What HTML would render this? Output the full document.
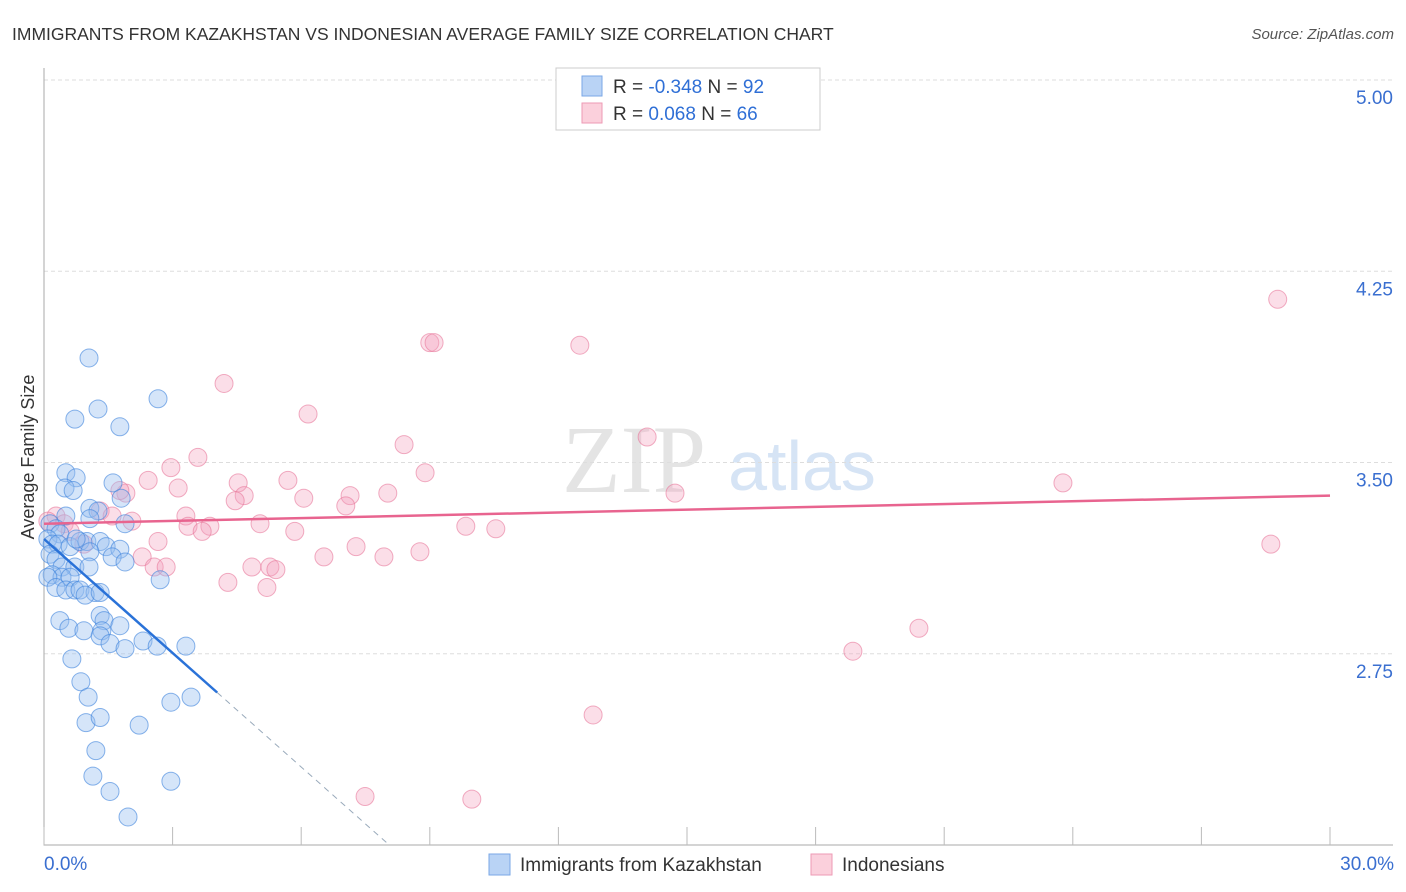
<!DOCTYPE html>
<html><head><meta charset="utf-8"><style>
body{margin:0;background:#fff;font-family:"Liberation Sans",sans-serif}
svg{display:block}
</style></head><body>
<svg id="c" width="1406" height="892">
<text x="12" y="40" font-size="17.5" fill="#333">IMMIGRANTS FROM KAZAKHSTAN VS INDONESIAN AVERAGE FAMILY SIZE CORRELATION CHART</text>
<text x="1394" y="39" font-size="15" fill="#555" font-style="italic" text-anchor="end">Source: ZipAtlas.com</text>
<text x="634" y="492" font-size="96" fill="#e4e4e4" font-family="Liberation Serif,serif" text-anchor="middle">ZIP</text>
<text x="802" y="490" font-size="70" fill="#d6e4f5" text-anchor="middle">atlas</text>
<text transform="translate(34,457) rotate(-90)" font-size="18" fill="#333" text-anchor="middle">Average Family Size</text>
<g id="grid"></g><g id="marks"></g><g id="trend"></g>
<g>
<rect x="556" y="68" width="264" height="62" fill="#fff" stroke="#ccc"/>
<rect x="582" y="76" width="20" height="20" fill="#b9d3f5" stroke="#7aa7e6"/>
<rect x="582" y="103" width="20" height="20" fill="#fbd0dc" stroke="#ee9ab4"/>
<text x="613" y="93" font-size="19" fill="#333">R = <tspan fill="#2f6fd6">-0.348</tspan>   N = <tspan fill="#2f6fd6">92</tspan></text>
<text x="613" y="120" font-size="19" fill="#333">R =  <tspan fill="#2f6fd6"> 0.068</tspan>   N = <tspan fill="#2f6fd6">66</tspan></text>
</g>
<g>
<rect x="489" y="854" width="21" height="21" fill="#b9d3f5" stroke="#7aa7e6"/>
<text x="520" y="871" font-size="19" fill="#333">Immigrants from Kazakhstan</text>
<rect x="811" y="854" width="21" height="21" fill="#fbd0dc" stroke="#ee9ab4"/>
<text x="842" y="871" font-size="19" fill="#333">Indonesians</text>
</g>
</svg>
<script>
const yTicks=[5.00,4.25,3.50,2.75];
const yTickLabels=["5.00","4.25","3.50","2.75"];
const xTicks=[0,3,6,9,12,15,18,21,24,27,30];
const xTickLabels=["0.0%","30.0%"];
const blueX=[1.05,0.72,1.26,2.66,1.77,0.51,0.75,0.49,0.68,1.61,1.80,1.07,1.26,0.51,1.07,1.89,0.14,0.28,0.37,0.09,0.19,0.33,0.61,0.84,1.0,0.75,1.31,1.45,1.77,1.07,1.59,1.89,0.14,0.28,0.42,0.72,1.05,0.19,0.42,0.09,0.61,0.28,0.51,0.72,0.84,1.19,0.96,1.31,2.71,1.31,1.40,1.35,1.77,0.37,0.58,0.93,1.31,1.54,1.89,2.31,2.64,3.31,0.65,0.86,1.03,3.43,2.96,0.98,1.31,2.22,1.21,1.14,1.54,2.96,1.96];
const blueY=[3.91,3.67,3.71,3.75,3.64,3.46,3.44,3.40,3.39,3.42,3.36,3.32,3.31,3.29,3.28,3.26,3.26,3.24,3.22,3.20,3.18,3.18,3.17,3.19,3.19,3.20,3.19,3.17,3.16,3.15,3.13,3.11,3.14,3.12,3.09,3.09,3.09,3.06,3.05,3.05,3.05,3.01,3.00,3.00,3.00,2.99,2.98,2.99,3.04,2.90,2.88,2.84,2.86,2.88,2.85,2.84,2.82,2.79,2.77,2.80,2.78,2.78,2.73,2.64,2.58,2.58,2.56,2.48,2.50,2.47,2.37,2.27,2.21,2.25,2.11];
const pinkX=[28.78,9.00,9.10,12.50,4.20,6.16,14.07,8.40,3.59,2.96,8.89,4.53,5.69,2.43,3.13,4.67,8.02,7.14,6.06,1.91,1.77,14.72,23.77,4.46,7.04,1.31,1.59,2.05,3.31,3.87,3.36,5.04,5.85,9.84,10.54,3.69,0.28,0.09,0.47,0.61,2.66,0.93,7.28,2.29,6.53,8.77,7.93,28.62,2.57,2.85,4.85,5.27,5.41,4.29,5.20,20.41,18.87,12.81,7.49,9.98];
const pinkY=[4.14,3.97,3.97,3.96,3.81,3.69,3.60,3.57,3.52,3.48,3.46,3.42,3.43,3.43,3.40,3.37,3.38,3.37,3.36,3.38,3.39,3.38,3.42,3.35,3.33,3.31,3.29,3.27,3.29,3.25,3.25,3.26,3.23,3.25,3.24,3.23,3.29,3.27,3.26,3.23,3.19,3.18,3.17,3.13,3.13,3.15,3.13,3.18,3.09,3.09,3.09,3.09,3.08,3.03,3.01,2.85,2.76,2.51,2.19,2.18];
const blueTrend=[3.20,-0.149,4.04];
const pinkTrend=[3.26,0.00367];
const X0=44,X1=1330,Y0=80,Y1=845,YMAX=5,YMIN=2,XMAX=30;
const sx=v=>X0+v/XMAX*(X1-X0);
const sy=v=>Y0+(YMAX-v)/(YMAX-YMIN)*(Y1-Y0);
const NS="http://www.w3.org/2000/svg";
function mk(t,a,p){const e=document.createElementNS(NS,t);for(const k in a)e.setAttribute(k,a[k]);p.appendChild(e);return e;}
const grid=document.getElementById('grid'),marks=document.getElementById('marks'),trend=document.getElementById('trend');
yTicks.forEach((v,i)=>{
 const l=mk('line',{x1:X0,x2:1393,y1:sy(v),y2:sy(v),stroke:'#ddd','stroke-dasharray':'4,3'},grid);
 
 
 const t=mk('text',{x:1393,y:sy(v)+24,'font-size':19,fill:'#3a6fd0','text-anchor':'end'},grid);
 t.textContent=yTickLabels[i];
 
 
});
const ax=mk('path',{d:`M${X0},68V${Y1}H1393`,stroke:'#aaa',fill:'none'},grid);


xTicks.forEach(v=>{
 const l=mk('line',{x1:sx(v),x2:sx(v),y1:Y1,y2:Y1-18,stroke:'#bbb'},grid);
 
 
});
[[0,'start',44],[30,'end',1394]].forEach((a,i)=>{
 const t=mk('text',{x:a[2],y:870,'font-size':19,fill:'#3a6fd0','text-anchor':a[1]},grid);
 t.textContent=xTickLabels[i];
 
 
});
pinkX.forEach((x,i)=>{
 const c=mk('circle',{cx:sx(x),cy:sy(pinkY[i]),r:9,fill:'rgba(244,160,188,0.35)',stroke:'rgba(232,120,155,0.6)','stroke-width':1},marks);
 
 
});
blueX.forEach((x,i)=>{
 const c=mk('circle',{cx:sx(x),cy:sy(blueY[i]),r:9,fill:'rgba(150,190,240,0.4)',stroke:'rgba(60,130,220,0.6)','stroke-width':1},marks);
 
 
});
const bEnd=(YMIN-blueTrend[0])/blueTrend[1];
const bd=mk('line',{x1:sx(blueTrend[2]),y1:sy(blueTrend[0]+blueTrend[1]*blueTrend[2]),x2:sx(bEnd),y2:sy(YMIN),stroke:'#9ab',"stroke-dasharray":'6,5'},trend);


const bl=mk('line',{x1:sx(0),y1:sy(blueTrend[0]),x2:sx(blueTrend[2]),y2:sy(blueTrend[0]+blueTrend[1]*blueTrend[2]),stroke:'#2a72d8','stroke-width':2.5},trend);


const pl=mk('line',{x1:sx(0),y1:sy(pinkTrend[0]),x2:sx(30),y2:sy(pinkTrend[0]+pinkTrend[1]*30),stroke:'#e8648f','stroke-width':2.5},trend);


</script>
</body></html>
